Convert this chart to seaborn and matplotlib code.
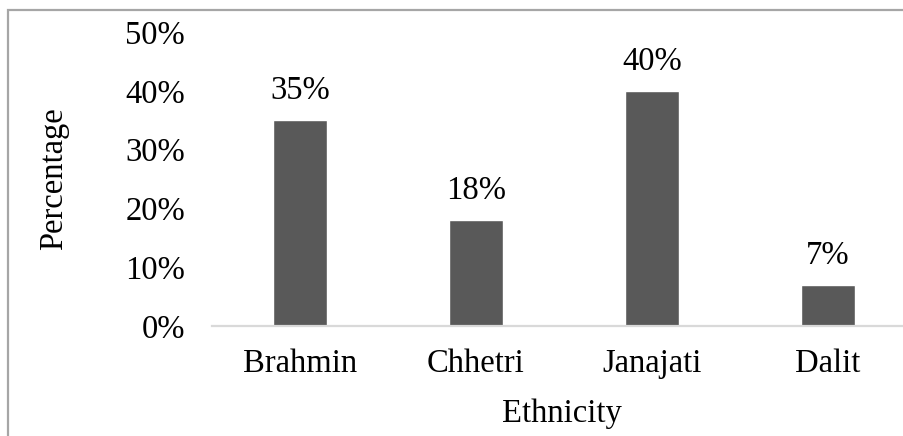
import matplotlib
matplotlib.use("Agg")
import matplotlib.pyplot as plt
from matplotlib.patches import Rectangle
from matplotlib.ticker import FuncFormatter
import seaborn as sns

# Share of respondents by ethnic group
categories = ["Brahmin", "Chhetri", "Janajati", "Dalit"]
percentages = [35, 18, 40, 7]
y_ticks = [0, 10, 20, 30, 40, 50]

sns.set_theme(style="white")
plt.rcParams["font.family"] = ["Liberation Serif", "DejaVu Serif"]
FS = 23.5

fig = plt.figure(figsize=(9.04, 4.36), dpi=100)
fig.patch.set_facecolor("white")

# Thin grey frame around the chart area
frame = Rectangle((8 / 904, -0.1), 1.2, (436 - 10) / 436 + 0.1,
                  transform=fig.transFigure, fill=False,
                  edgecolor="#a6a6a6", linewidth=1.6, clip_on=False)
fig.patches.append(frame)

ax = fig.add_axes([212 / 904, 1 - 326 / 436, 704 / 904, 294 / 436])
ax.set_facecolor("none")

sns.barplot(x=categories, y=percentages, color="#595959", saturation=1,
            width=0.31, ax=ax)

ax.set_xlim(-0.5, 3.5)
ax.set_ylim(0, 50)
ax.set_yticks(y_ticks)
ax.yaxis.set_major_formatter(FuncFormatter(lambda v, _: f"{v:.0f}%"))

for side in ("top", "right", "left"):
    ax.spines[side].set_visible(False)
ax.spines["bottom"].set_color("#d9d9d9")
ax.spines["bottom"].set_linewidth(1.6)

ax.tick_params(axis="y", length=0, pad=19.4, labelsize=FS, labelcolor="black")
ax.tick_params(axis="x", length=0, pad=16, labelsize=FS, labelcolor="black")

ax.bar_label(ax.containers[0], labels=[f"{v}%" for v in percentages],
             padding=10, fontsize=FS, color="black")

ax.set_xlabel("Ethnicity", fontsize=FS, color="black")
ax.set_ylabel("Percentage", fontsize=FS, color="black")
ax.xaxis.set_label_coords(0.497, -0.2466)
ax.yaxis.set_label_coords(-0.203, 0.5)

fig.savefig("out.png", dpi=100, facecolor="white")
